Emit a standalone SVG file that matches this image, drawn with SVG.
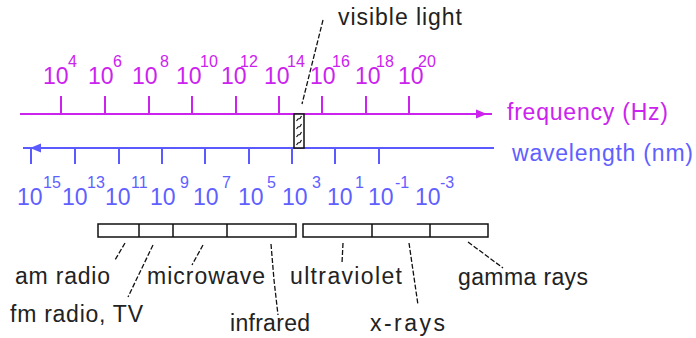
<svg xmlns="http://www.w3.org/2000/svg" width="696" height="338" viewBox="0 0 696 338">
<style>
text{font-family:"Liberation Sans",Arial,sans-serif}
.m{fill:#cc22ee}
.b{fill:#6060ff}
.k{fill:#222}
.big{font-size:23px}
.sup{font-size:16px}
.ml{stroke:#cc22ee;stroke-width:2;fill:none}
.bl{stroke:#5a5aff;stroke-width:2;fill:none}
.box{stroke:#111;stroke-width:1.5;fill:#fff}
.lead{stroke:#111;stroke-width:1.3;fill:none;stroke-dasharray:5 2}
</style>
<defs>
<pattern id="hatch" patternUnits="userSpaceOnUse" width="10" height="8" x="294" y="114">
<rect width="10" height="8" fill="#fff"/>
<path d="M2.5 7 L4 5 L6 4.5 L7.5 2" stroke="#111" stroke-width="1.2" fill="none"/>
</pattern>
</defs>
<g id="frequency-axis">
<line class="ml" x1="20" y1="114" x2="492" y2="114"/>
<polygon points="487,114 476,109.5 476,118.5" fill="#cc22ee"/>
<path class="ml" d="M61 96V114M105 96V114M149 96V114M192 96V114M236 96V114M279 96V114M322 96V114M366 96V114M409 96V114"/>
<g class="m big">
<text x="43" y="84">10</text><text x="88" y="84">10</text><text x="132" y="84">10</text>
<text x="176" y="84">10</text><text x="221" y="84">10</text><text x="264" y="84">10</text>
<text x="310" y="84">10</text><text x="355" y="84">10</text><text x="398" y="84">10</text>
</g>
<g class="m sup">
<text x="68" y="67">4</text><text x="113" y="67">6</text><text x="160" y="67">8</text>
<text x="200" y="67">10</text><text x="240" y="67">12</text><text x="287" y="67">14</text>
<text x="332" y="67">16</text><text x="376" y="67">18</text><text x="418" y="67">20</text>
</g>
<text class="m big" x="507" y="120" textLength="161" lengthAdjust="spacing">frequency (Hz)</text>
</g>
<g id="wavelength-axis">
<line class="bl" x1="23" y1="148" x2="494" y2="148"/>
<polygon points="30,148 41,143.5 41,152.5" fill="#5a5aff"/>
<path class="bl" d="M31 148V164M75 148V164M119 148V164M162 148V164M205 148V164M249 148V164M292 148V164M335 148V164M379 148V164"/>
<g class="b big">
<text x="17" y="205">10</text><text x="62" y="205">10</text><text x="105" y="205">10</text>
<text x="150" y="205">10</text><text x="193" y="205">10</text><text x="238" y="205">10</text>
<text x="282" y="205">10</text><text x="327" y="205">10</text><text x="368" y="205">10</text>
<text x="415" y="205">10</text>
</g>
<g class="b sup">
<text x="43" y="188">15</text><text x="87" y="188">13</text><text x="131" y="188">11</text>
<text x="180" y="188">9</text><text x="222" y="188">7</text><text x="267" y="188">5</text>
<text x="312" y="188">3</text><text x="355" y="188">1</text><text x="395" y="188">-1</text>
<text x="440" y="188">-3</text>
</g>
<text class="b big" x="512" y="161" textLength="181" lengthAdjust="spacing">wavelength (nm)</text>
</g>
<g id="visible-light">
<rect x="294" y="114" width="10" height="34" fill="url(#hatch)" stroke="#111" stroke-width="1.5"/>
<text class="k big" x="338" y="25" textLength="124" lengthAdjust="spacing">visible light</text>
</g>
<g id="bands-low">
<rect class="box" x="98" y="224" width="198" height="13"/>
<path d="M139 224V237M173 224V237M227 224V237" stroke="#111" stroke-width="1.5"/>
</g>
<g id="bands-high">
<rect class="box" x="303" y="224" width="185" height="13"/>
<path d="M372 224V237M430 224V237" stroke="#111" stroke-width="1.5"/>
</g>
<g id="connectors">
<line class="lead" x1="323" y1="20" x2="302" y2="104"/>
<line class="lead" x1="125" y1="243" x2="115" y2="260"/>
<line class="lead" x1="153" y1="245" x2="128" y2="297"/>
<line class="lead" x1="203" y1="245" x2="192" y2="265"/>
<polyline class="lead" points="271,244 274,280 278,315"/>
<line class="lead" x1="343" y1="243" x2="342" y2="263"/>
<line class="lead" x1="409" y1="243" x2="418" y2="305"/>
<line class="lead" x1="468" y1="242" x2="503" y2="268"/>
</g>
<g id="label-am"><text class="k big" x="15" y="284" textLength="95" lengthAdjust="spacing">am radio</text></g>
<g id="label-fm"><text class="k big" x="10" y="322" textLength="133" lengthAdjust="spacing">fm radio, TV</text></g>
<g id="label-microwave"><text class="k big" x="147" y="284" textLength="118" lengthAdjust="spacing">microwave</text></g>
<g id="label-infrared"><text class="k big" x="230" y="331" textLength="80" lengthAdjust="spacing">infrared</text></g>
<g id="label-ultraviolet"><text class="k big" x="290" y="284" textLength="112" lengthAdjust="spacing">ultraviolet</text></g>
<g id="label-xrays"><text class="k big" x="370" y="331" textLength="75" lengthAdjust="spacing">x-rays</text></g>
<g id="label-gamma"><text class="k big" x="458" y="285" textLength="130" lengthAdjust="spacing">gamma rays</text></g>
</svg>
